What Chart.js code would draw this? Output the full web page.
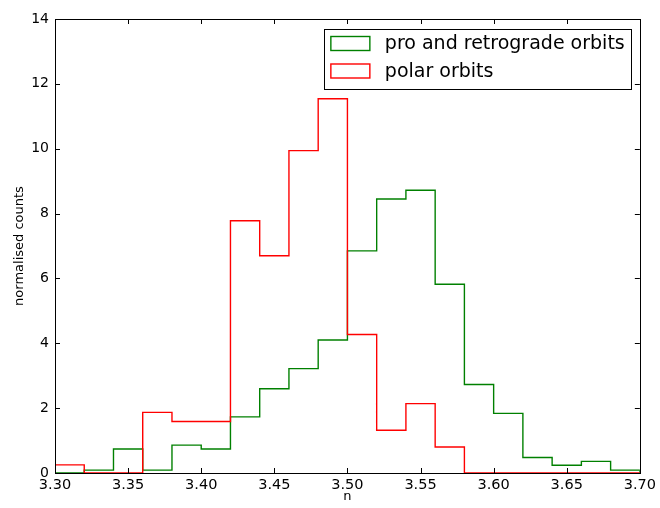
<!DOCTYPE html>
<html>
<head>
<meta charset="utf-8">
<title>n distribution</title>
<script src="https://cdn.jsdelivr.net/npm/chart.js@4.4.1/dist/chart.umd.min.js"></script>
<style>
  html, body { margin: 0; padding: 0; background: #fff; }
  #wrap { width: 660px; height: 508px; position: relative; }
</style>
</head>
<body>
<div id="wrap"><canvas id="histChart"></canvas></div>
<script>
// histogram bins (width 0.02) and normalised counts per bin
const binEdges = [3.30, 3.32, 3.34, 3.36, 3.38, 3.40, 3.42, 3.44, 3.46, 3.48, 3.50,
                  3.52, 3.54, 3.56, 3.58, 3.60, 3.62, 3.64, 3.66, 3.68, 3.70];
const proRetroCounts = [0, 0.09, 0.74, 0.09, 0.86, 0.74, 1.73, 2.60, 3.22, 4.10,
                        6.85, 8.45, 8.72, 5.82, 2.73, 1.84, 0.48, 0.24, 0.36, 0.09];
const polarCounts = [0.25, 0, 0, 1.87, 1.59, 1.59, 7.78, 6.70, 9.94, 11.54,
                     4.27, 1.32, 2.14, 0.80, 0, 0, 0, 0, 0, 0];
const seriesLabels = ["pro and retrograde orbits", "polar orbits"];
const seriesColors = ["#008000", "#ff0000"];
const xTicks = [3.30, 3.35, 3.40, 3.45, 3.50, 3.55, 3.60, 3.65, 3.70];
const yTicks = [0, 2, 4, 6, 8, 10, 12, 14];

const FONT = "'DejaVu Sans', 'Liberation Sans', sans-serif";

// outline of a step histogram: start and end on the baseline
function stepPoints(counts) {
  const pts = [{ x: binEdges[0], y: 0 }];
  counts.forEach((c, i) => pts.push({ x: binEdges[i], y: c }));
  pts.push({ x: binEdges[binEdges.length - 1], y: counts[counts.length - 1] });
  pts.push({ x: binEdges[binEdges.length - 1], y: 0 });
  return pts;
}

// frame around the axes with inward tick marks on all four sides
const frameTicks = {
  id: "frameTicks",
  afterDatasetsDraw(chart) {
    const { ctx, chartArea: a, scales } = chart;
    const len = 5;
    ctx.save();
    ctx.strokeStyle = "#000";
    ctx.lineWidth = 1;
    ctx.beginPath();
    scales.x.ticks.forEach((t) => {
      const px = Math.round(scales.x.getPixelForValue(t.value)) + 0.5;
      ctx.moveTo(px, a.bottom); ctx.lineTo(px, a.bottom - len);
      ctx.moveTo(px, a.top); ctx.lineTo(px, a.top + len);
    });
    scales.y.ticks.forEach((t) => {
      const py = Math.round(scales.y.getPixelForValue(t.value)) + 0.5;
      ctx.moveTo(a.left, py); ctx.lineTo(a.left + len, py);
      ctx.moveTo(a.right, py); ctx.lineTo(a.right - len, py);
    });
    ctx.stroke();
    ctx.strokeRect(Math.round(a.left) + 0.5, Math.round(a.top) + 0.5,
                   Math.round(a.right - a.left), Math.round(a.bottom - a.top));
    ctx.restore();
  }
};

// boxed legend in the upper right of the axes
const boxLegend = {
  id: "boxLegend",
  afterDraw(chart) {
    const { ctx, chartArea: a } = chart;
    const right = a.right - 9, top = a.top + 9.5;
    const w = 307, h = 60;
    const left = right - w;
    ctx.save();
    ctx.fillStyle = "#fff";
    ctx.fillRect(left, top, w, h);
    ctx.strokeStyle = "#000";
    ctx.lineWidth = 1;
    ctx.strokeRect(Math.round(left) + 0.5, Math.round(top) + 0.5, w, h);
    ctx.font = "19px " + FONT;
    ctx.textBaseline = "middle";
    ctx.textAlign = "left";
    chart.data.datasets.forEach((ds, i) => {
      const rowTop = top + 8 + i * 27.5;
      ctx.strokeStyle = ds.borderColor;
      ctx.lineWidth = 1.4;
      ctx.strokeRect(left + 7, rowTop, 39, 14);
      ctx.fillStyle = "#000";
      ctx.fillText(ds.label, left + 61, rowTop + 8);
    });
    ctx.restore();
  }
};

new Chart(document.getElementById("histChart"), {
  type: "line",
  data: {
    datasets: [
      {
        label: seriesLabels[0],
        data: stepPoints(proRetroCounts),
        borderColor: seriesColors[0],
        borderWidth: 1.4,
        stepped: true,
        fill: false,
        pointRadius: 0,
        order: 2,
      },
      {
        label: seriesLabels[1],
        data: stepPoints(polarCounts),
        borderColor: seriesColors[1],
        borderWidth: 1.4,
        stepped: true,
        fill: false,
        pointRadius: 0,
        order: 1,
      },
    ],
  },
  options: {
    responsive: true,
    maintainAspectRatio: false,
    animation: false,
    layout: { padding: { top: 19, right: 19, left: 0, bottom: 0 } },
    plugins: {
      legend: { display: false },
      tooltip: { enabled: false },
    },
    scales: {
      x: {
        type: "linear",
        min: 3.3,
        max: 3.7,
        afterBuildTicks: (scale) => { scale.ticks = xTicks.map((v) => ({ value: v })); },
        afterFit: (scale) => { scale.height = 35; },
        grid: { display: false, drawTicks: false },
        border: { display: false },
        ticks: {
          autoSkip: false,
          maxRotation: 0,
          padding: 4,
          color: "#000",
          font: { family: FONT, size: 14.5 },
          callback: (v) => Number(v).toFixed(2),
        },
        title: {
          display: true,
          text: "n",
          color: "#000",
          font: { family: FONT, size: 13 },
          padding: { top: 0, bottom: 4 },
        },
      },
      y: {
        min: 0,
        max: 14,
        afterBuildTicks: (scale) => { scale.ticks = yTicks.map((v) => ({ value: v })); },
        afterFit: (scale) => { scale.width = 55; },
        grid: { display: false, drawTicks: false },
        border: { display: false },
        ticks: {
          padding: 6,
          color: "#000",
          font: { family: FONT, size: 14 },
        },
        title: {
          display: true,
          text: "normalised counts",
          color: "#000",
          font: { family: FONT, size: 13 },
          padding: { top: 12, bottom: 0 },
        },
      },
    },
  },
  plugins: [frameTicks, boxLegend],
});
</script>
</body>
</html>
